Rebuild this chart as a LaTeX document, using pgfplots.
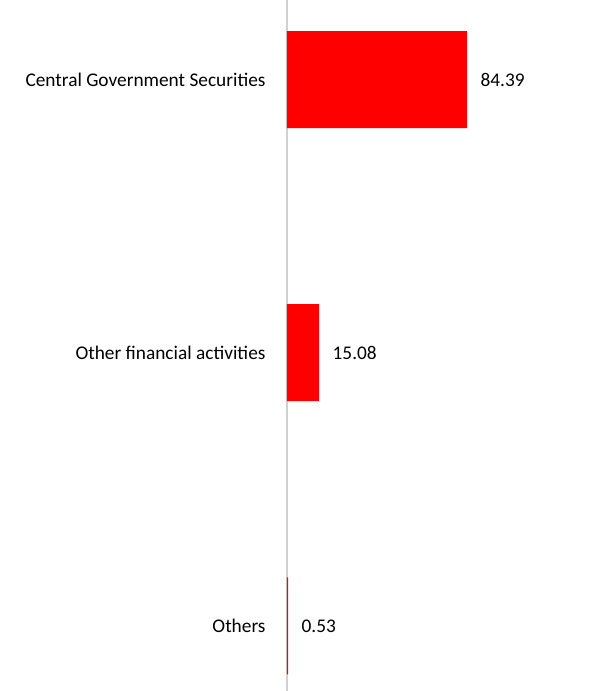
\documentclass[border=0pt]{standalone}
\usepackage{pgfplots}
\pgfplotsset{compat=1.18}
\usepackage{fontspec}
\setmainfont{Carlito}
\definecolor{barred}{HTML}{FF0000}
\definecolor{axgray}{HTML}{D0D0D0}
\begin{document}
\begin{tikzpicture}
\useasboundingbox (-287bp,0) rectangle (303bp,691bp);
\begin{axis}[
  at={(0,0)}, anchor=south west,
  scale only axis,
  width=303bp, height=691bp,
  xbar, bar width=97bp,
  xmin=0, xmax=142,
  ymin=-0.291, ymax=2.238,
  y dir=reverse,
  axis x line=none,
  axis y line*=left,
  y axis line style={axgray, line width=1.3bp, -},
  ytick={0,1,2},
  yticklabels={Central Government Securities, Other financial activities, Others},
  major tick length=0pt,
  yticklabel style={font=\fontsize{19.4}{23}\selectfont, xshift=-18bp},
  nodes near coords,
  nodes near coords style={font=\fontsize{19.4}{23}\selectfont, anchor=west, xshift=10bp, /pgf/number format/fixed, /pgf/number format/precision=2, /pgf/number format/fixed zerofill},
  /pgf/number format/assume math mode=true,
  clip=false,
]
\addplot[fill=barred, draw=none] coordinates {(84.39,0) (15.08,1) (0.53,2)};
\end{axis}
\end{tikzpicture}
\end{document}
